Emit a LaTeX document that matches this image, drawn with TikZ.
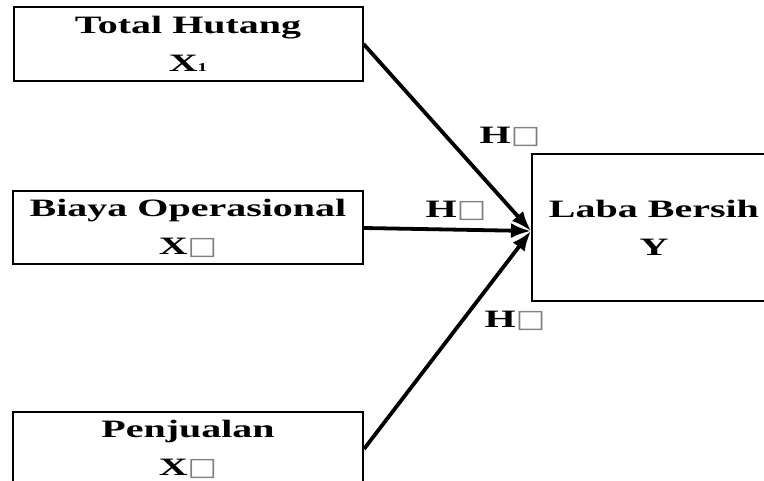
\documentclass[tikz,border=0pt]{standalone}
\usepackage{fontspec}
\usetikzlibrary{arrows.meta}
\newfontfamily\tfont[FakeStretch=1.6]{Liberation Serif}
\newfontfamily\sqfont[FakeStretch=1.25]{DejaVu Sans}
\newcommand{\sqg}{{\sqfont\mdseries\fontsize{25}{25}\selectfont\textcolor{gray}{□}}}
\newcommand{\smallone}{{\fontsize{12}{12}\selectfont 1}}
\begin{document}
\begin{tikzpicture}[x=1pt,y=-1pt,
  varbox/.style={draw=black,line width=2pt,align=center,inner sep=0pt,
    font=\tfont\bfseries\fontsize{25}{38}\selectfont},
  hlabel/.style={inner sep=0pt,font=\tfont\bfseries\fontsize{25}{30}\selectfont},
  link/.style={line width=3.8pt,-{Latex[length=20pt,width=15pt]}}]
\useasboundingbox (0,0) rectangle (764,481);
\clip (0,0) rectangle (764,481);
\node[varbox,minimum width=349pt,minimum height=74pt] (th) at (188,44) {Total Hutang\\X\smallone};
\node[varbox,minimum width=350pt,minimum height=73pt] (bo) at (188,228) {Biaya Operasional\\X\sqg};
\node[varbox,minimum width=350pt,minimum height=73pt] (pj) at (188,449) {Penjualan\\X\sqg};
\node[varbox,minimum width=244pt,minimum height=147pt] (lb) at (654,228) {Laba Bersih\\Y};
\coordinate (tip) at (531,231);
\draw[link] (th.east) -- (tip);
\draw[link] (bo.east) -- (tip);
\draw[link] (pj.east) -- (tip);
\node[hlabel] (h1) at (510,137) {H\sqg};
\node[hlabel] (h2) at (456,211) {H\sqg};
\node[hlabel] (h3) at (515,321) {H\sqg};
\end{tikzpicture}
\end{document}
